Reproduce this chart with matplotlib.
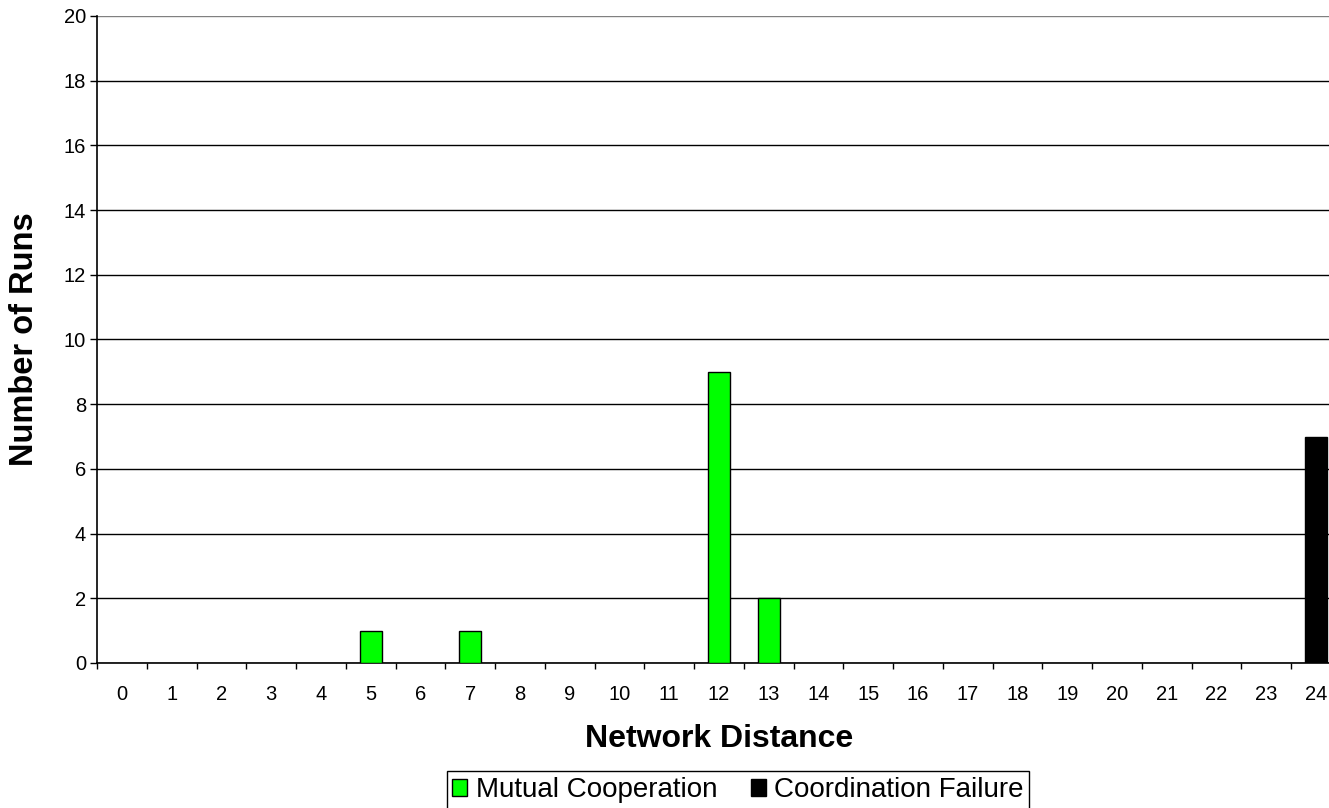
import matplotlib.pyplot as plt
from matplotlib.patches import Patch

# data
distance = list(range(25))
mutual_coop = [0, 0, 0, 0, 0, 1, 0, 1, 0, 0, 0, 0, 9, 2, 0, 0, 0, 0, 0, 0, 0, 0, 0, 0, 0]
coord_fail = [0, 0, 0, 0, 0, 0, 0, 0, 0, 0, 0, 0, 0, 0, 0, 0, 0, 0, 0, 0, 0, 0, 0, 0, 7]
y_ticks = list(range(0, 21, 2))

plt.rcParams['font.family'] = ['Liberation Sans', 'DejaVu Sans']

W, H = 1329, 808
fig = plt.figure(figsize=(W / 100, H / 100), dpi=100)
ax = fig.add_axes([97 / W, 1 - 663 / H, (1341 - 97) / W, (663 - 16) / H])

# bars (only non-zero ones are visible in the original)
for x, v in zip(distance, mutual_coop):
    if v > 0:
        ax.bar(x, v, width=0.44, color='#00FF00', edgecolor='black', linewidth=1, zorder=3)
for x, v in zip(distance, coord_fail):
    if v > 0:
        ax.bar(x, v, width=0.44, color='black', edgecolor='black', linewidth=1, zorder=3)

ax.set_xlim(-0.5, 24.5)
ax.set_ylim(0, 20)

# axes styling
for s in ['top', 'right']:
    ax.spines[s].set_visible(False)
ax.spines['left'].set_color('black')
ax.spines['bottom'].set_color('black')
ax.spines['left'].set_linewidth(1.2)
ax.spines['bottom'].set_linewidth(1.2)

ax.set_yticks(y_ticks)
ax.tick_params(axis='y', length=5, width=1, direction='out', pad=3, labelsize=14.5)
ax.yaxis.grid(True, color='black', linewidth=1)
ax.get_ygridlines()[-1].set_color('#808080')
ax.set_axisbelow(True)

ax.set_xticks(distance)
ax.set_xticklabels([str(d) for d in distance])
ax.set_xticks([d - 0.5 for d in distance] + [24.5], minor=True)
ax.tick_params(axis='x', which='major', length=0, pad=16, labelsize=14.5)
ax.tick_params(axis='x', which='minor', length=4, width=1, direction='out')

ax.set_xlabel('Network Distance', fontsize=23, fontweight='bold', labelpad=14)
ax.set_ylabel('Number of Runs', fontsize=23.5, fontweight='bold', labelpad=17)

handles = [Patch(facecolor='#00FF00', edgecolor='black', label='Mutual Cooperation'),
           Patch(facecolor='black', edgecolor='black', label='Coordination Failure')]
leg = fig.legend(handles=handles, loc='center', bbox_to_anchor=(738 / W, 1 - 790 / H),
                 ncol=2, fontsize=20, frameon=True, fancybox=False, framealpha=1,
                 edgecolor='black', handlelength=0.55, handleheight=0.55,
                 handletextpad=0.3, columnspacing=1.2, borderpad=0.2, borderaxespad=0)
leg.get_frame().set_linewidth(1)

fig.savefig('out.png', dpi=100)
